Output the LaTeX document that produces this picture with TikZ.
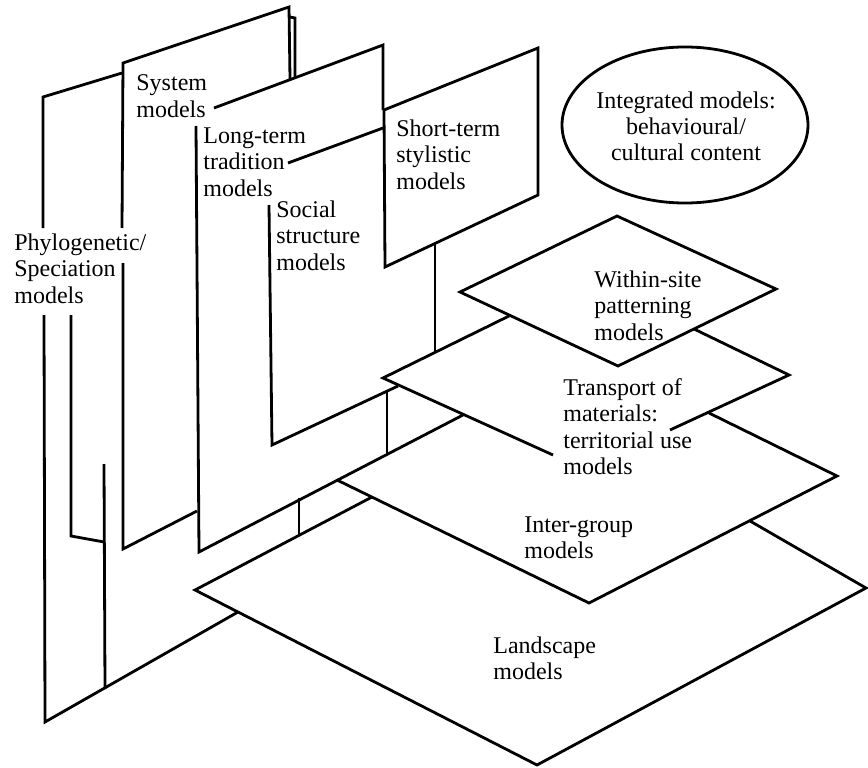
\documentclass[tikz,border=0pt]{standalone}
\usepackage{fontspec}
\setmainfont{Liberation Serif}
\newcommand\stackL[1]{\begin{tabular}[t]{@{}l@{}}#1\end{tabular}}
\newcommand\stackC[1]{\begin{tabular}[t]{@{}c@{}}#1\end{tabular}}
\begin{document}
\begin{tikzpicture}[x=1pt,y=-1pt,line width=2.8pt,
  lbl/.style={inner sep=0pt,font=\fontsize{24}{26.5}\selectfont,anchor=base west}]
\useasboundingbox (0,0) rectangle (868,768);
% ---------- Phylogenetic / Speciation plane ----------
\draw (43,228) -- (43,97) -- (122,73);
\draw (44,315) -- (45,722) -- (238,612);
\draw (71,315) -- (71,536) -- (104,542);
\draw (104,464) -- (105,689);
% ---------- System plane ----------
\draw (122,228) -- (123,63) -- (289,7) -- (290,79);
\draw (290,17) -- (295,18) -- (295,78);
\draw (123,263) -- (123,549) -- (197,511);
% ---------- Long-term plane ----------
\draw (214,108) -- (383,45) -- (383,110);
\draw (196,126) -- (199,552) -- (463,415);
% ---------- Social structure plane ----------
\draw (288,163) -- (383,128);
\draw (269,205) -- (272,445) -- (398,386);
% ---------- Short-term plane ----------
\draw[fill=white] (384,110) -- (538,48) -- (538,195) -- (385,267) -- cycle;
% posts
\draw (435,244) -- (435,352);
\draw (387,392) -- (387,453);
\draw (299,498) -- (299,535);
% ---------- Within-site plane ----------
\draw (460,292) -- (617,216) -- (776,289) -- (618,366) -- cycle;
% ---------- Transport plane ----------
\draw (510,315.5) -- (383,378) -- (553,455);
\draw (670,430) -- (789,375) -- (694,329);
% ---------- Inter-group plane ----------
\draw (337,480) -- (589,603) -- (837,476) -- (709,413);
% ---------- Landscape plane ----------
\draw (372,497) -- (195,590) -- (537,765) -- (866,588) -- (750,521);
% ---------- Integrated ellipse ----------
\draw (685,125) ellipse [x radius=123, y radius=78];
% ---------- Labels ----------
\node[lbl] (phylo) at (13,250) {\stackL{Phylogenetic/\\Speciation\\models}};
\node[lbl] (sys) at (135,91) {\stackL{System\\models}};
\node[lbl] (long) at (202,143) {\stackL{Long-term\\tradition\\models}};
\node[lbl] (soc) at (275,217) {\stackL{Social\\structure\\models}};
\node[lbl] (short) at (395,136) {\stackL{Short-term\\stylistic\\models}};
\node[lbl,anchor=base] (integ) at (686,108) {\stackC{Integrated models:\\behavioural/\\cultural content}};
\node[lbl] (within) at (593,287) {\stackL{Within-site\\patterning\\models}};
\node[lbl] (trans) at (562,395) {\stackL{Transport of\\materials:\\territorial use\\models}};
\node[lbl] (inter) at (523,532) {\stackL{Inter-group\\models}};
\node[lbl] (land) at (492,653) {\stackL{Landscape\\models}};
\end{tikzpicture}
\end{document}
